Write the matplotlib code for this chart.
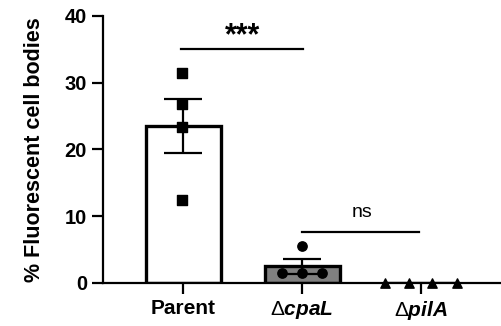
import numpy as np
import matplotlib.pyplot as plt

plt.rcParams['font.family'] = ['Liberation Sans', 'DejaVu Sans']
plt.rcParams['mathtext.fontset'] = 'custom'
plt.rcParams['mathtext.rm'] = 'Liberation Sans'
plt.rcParams['mathtext.it'] = 'Liberation Sans:italic:bold'

# data
groups = ['Parent', r'$\mathrm{\Delta}\mathit{cpaL}$', r'$\mathrm{\Delta}\mathit{pilA}$']
parent = [31.5, 26.8, 23.4, 12.4]
cpal = [1.5, 5.5, 1.5, 1.5]
pila = [0, 0, 0, 0]
means = [23.5, 2.5, 0.0]
sem = [4.0, 1.1, 0.0]
jitter = [[-0.01, -0.01, -0.01, -0.01], [-0.17, 0.0, 0.0, 0.17], [-0.3, -0.1, 0.09, 0.3]]
markers = ['s', 'o', '^']
fills = ['white', '#808080', 'white']

fig = plt.figure(figsize=(5.01, 3.26), dpi=100)
ax = fig.add_axes([0.2056, 0.132, 0.792, 0.819])

x = np.arange(3)
ax.bar(x, means, width=0.63, color=fills, edgecolor='black', linewidth=2.4, zorder=2)
ax.errorbar(x[:2], means[:2], yerr=sem[:2], fmt='none', ecolor='black',
            elinewidth=1.6, capsize=13.5, capthick=1.6, zorder=3)
for i, vals in enumerate([parent, cpal, pila]):
    ax.scatter(x[i] + np.array(jitter[i]), vals, marker=markers[i], s=45,
               color='black', zorder=4, clip_on=False)

# significance
ax.plot([-0.02, 1.01], [35, 35], color='black', lw=1.6)
ax.text(0.5, 37.0, '***', ha='center', va='center', fontsize=22, fontweight='bold')
ax.plot([1.0, 1.98], [7.6, 7.6], color='black', lw=1.6)
ax.text(1.5, 10.6, 'ns', ha='center', va='center', fontsize=14)

ax.set_xlim(-0.672, 2.66)
ax.set_ylim(0, 40)
ax.set_yticks([0, 10, 20, 30, 40])
ax.set_xticks(x)
ax.set_xticklabels(groups, fontsize=15, fontweight='bold')
ax.tick_params(axis='y', labelsize=14.5, width=1.6, length=8)
ax.tick_params(axis='x', width=1.6, length=8)
for t in ax.get_yticklabels():
    t.set_fontweight('bold')
ax.set_ylabel('% Fluorescent cell bodies', fontsize=15.5, fontweight='bold', labelpad=14)
ax.spines['top'].set_visible(False)
ax.spines['right'].set_visible(False)
ax.spines['left'].set_linewidth(1.6)
ax.spines['bottom'].set_linewidth(1.6)

plt.savefig('out.png', dpi=100)
